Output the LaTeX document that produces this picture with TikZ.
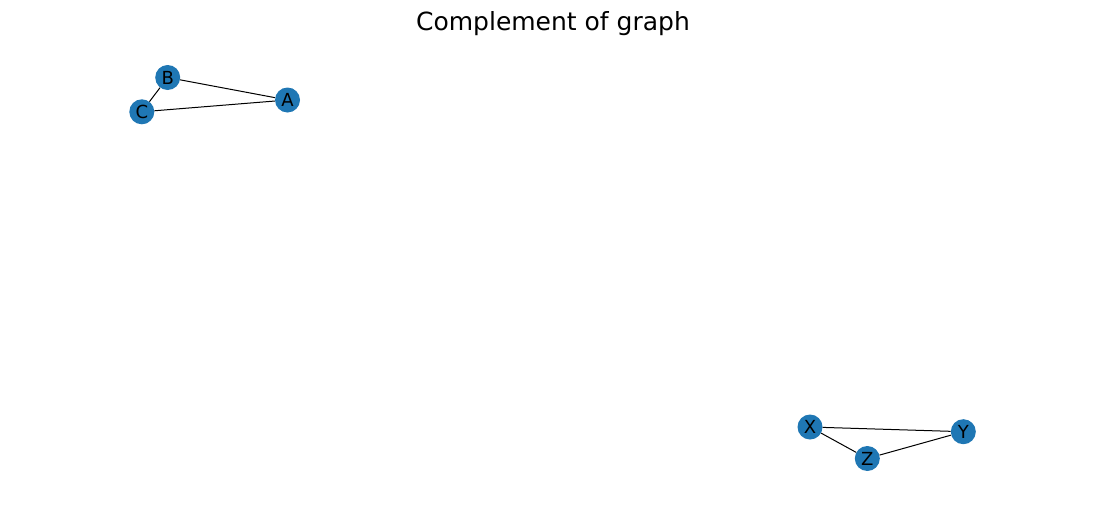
\documentclass[tikz,border=0pt]{standalone}
\usepackage{fontspec}
\setmainfont{DejaVu Sans}
\definecolor{nodeblue}{HTML}{1F77B4}
\tikzset{
	vertex/.style={circle, fill=nodeblue, minimum size=25pt, inner sep=0pt, font=\fontsize{18}{20}\selectfont},
	edge/.style={line width=1pt, color=black}
}

\begin{document}
\begin{tikzpicture}[x=1pt, y=-1pt]
			%%%%% START %%%%%
			
			\useasboundingbox (0, 0) rectangle (1105, 509);
			
			\node[anchor=base, font=\fontsize{25}{27}\selectfont] (title) at (553, 30) {Complement of graph};
			
			\node[vertex] (B) at (167.7, 77.5) {B};
			\node[vertex] (C) at (141.8, 111.8) {C};
			\node[vertex] (A) at (287.5, 100) {A};
			
			\node[vertex] (X) at (810, 427) {X};
			\node[vertex] (Z) at (867.3, 458.5) {Z};
			\node[vertex] (Y) at (963.3, 431.7) {Y};
			
			\draw[edge] (B) -- (C);
			\draw[edge] (B) -- (A);
			\draw[edge] (C) -- (A);
			
			\draw[edge] (X) -- (Z);
			\draw[edge] (X) -- (Y);
			\draw[edge] (Z) -- (Y);
			
			%%%%% END %%%%%
		\end{tikzpicture}
\end{document}
